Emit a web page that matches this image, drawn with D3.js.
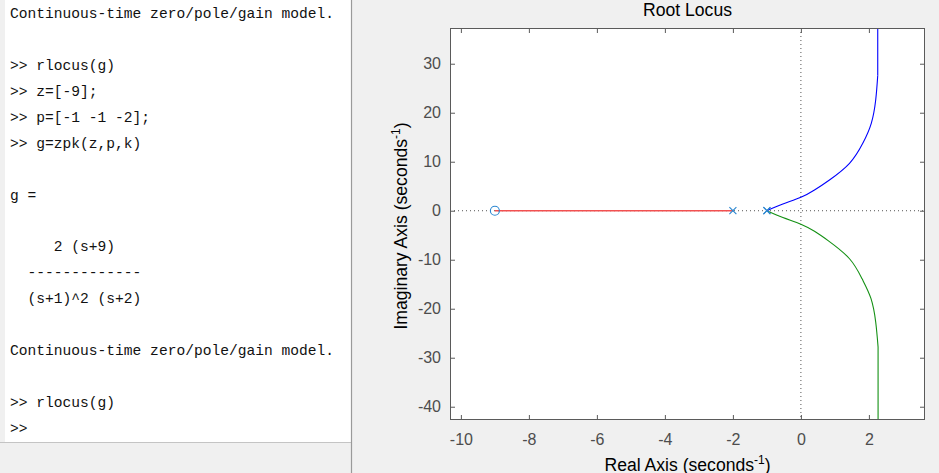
<!DOCTYPE html>
<html>
<head>
<meta charset="utf-8">
<script src="https://cdn.jsdelivr.net/npm/d3@7"></script>
<style>
  html, body { margin: 0; padding: 0; background: #f0f0f0; }
  svg { display: block; }
  .mono { font-family: "Liberation Mono", "DejaVu Sans Mono", monospace; white-space: pre; }
</style>
</head>
<body>
<svg id="chart" width="939" height="473"></svg>
<script>
// ---------- Data ----------
const consoleLines = [
  "Continuous-time zero/pole/gain model.",
  "",
  ">> rlocus(g)",
  ">> z=[-9];",
  ">> p=[-1 -1 -2];",
  ">> g=zpk(z,p,k)",
  "",
  "g =",
  "",
  "     2 (s+9)",
  "  -------------",
  "  (s+1)^2 (s+2)",
  "",
  "Continuous-time zero/pole/gain model.",
  "",
  ">> rlocus(g)",
  ">>"
];

const titleText = "Root Locus";
const xTicks = [-10, -8, -6, -4, -2, 0, 2];
const yTicks = [-40, -30, -20, -10, 0, 10, 20, 30];
const xDomain = [-10.32, 3.65];
const yDomain = [-42.71, 37.29];

// Branches (real, imaginary); last point = straight tail to the edge
const blueRe  = [-1, -0.53, 0, 0.40, 0.84, 1.43, 1.82, 2.07, 2.20, 2.26, 2.26];
const blueIm  = [0, 1.37, 2.73, 4.22, 6.27, 9.67, 13.75, 17.83, 22.6, 27.6, 40];
const greenRe = [-1, -0.53, 0, 0.40, 0.82, 1.43, 1.80, 2.06, 2.20, 2.27, 2.27];
const greenIm = [0, -1.4, -2.75, -4.2, -6.2, -9.8, -13.9, -17.9, -22.7, -27.8, -46];
const redRe   = [-9, -2];
const redIm   = [0, 0];
const zerosRe = [-9];
const polesRe = [-2, -1, -1];

// ---------- Layout ----------
const svg = d3.select("#chart");
const W = 939, H = 473;
const plot = { left: 450, right: 925, top: 28, bottom: 420 };

// Backgrounds
svg.append("rect").attr("x", 0).attr("y", 0).attr("width", W).attr("height", H).attr("fill", "#f0f0f0");
svg.append("rect").attr("x", 5).attr("y", 0).attr("width", 346).attr("height", 442).attr("fill", "#ffffff");
svg.append("line").attr("x1", 0).attr("x2", 351).attr("y1", 442.5).attr("y2", 442.5)
  .attr("stroke", "#c4c4c4").attr("stroke-width", 1);
svg.append("line").attr("x1", 351.5).attr("x2", 351.5).attr("y1", 0).attr("y2", H)
  .attr("stroke", "#9a9a9a").attr("stroke-width", 1.2);

// Console text
const lineH = 25.9;
svg.append("g").selectAll("text").data(consoleLines).join("text")
  .attr("class", "mono")
  .attr("x", 10)
  .attr("y", (d, i) => 18.3 + i * lineH)
  .attr("font-size", "14.6px")
  .attr("fill", "#111")
  .attr("xml:space", "preserve")
  .text(d => d);

// Scales
const x = d3.scaleLinear().domain(xDomain).range([plot.left, plot.right]);
const y = d3.scaleLinear().domain(yDomain).range([plot.bottom, plot.top]);

// Plot area
svg.append("rect").attr("x", plot.left).attr("y", plot.top)
  .attr("width", plot.right - plot.left).attr("height", plot.bottom - plot.top)
  .attr("fill", "#ffffff");

svg.append("clipPath").attr("id", "clip").append("rect")
  .attr("x", plot.left).attr("y", plot.top)
  .attr("width", plot.right - plot.left).attr("height", plot.bottom - plot.top);

const axisColor = "#5a5a5a";
const labelColor = "#4d4d4d";
const tickFont = "Liberation Sans, Arial, sans-serif";
const fmt = d => String(d);

function styleAxis(g) {
  g.select(".domain").remove();
  g.selectAll(".tick line").attr("stroke", axisColor);
  g.selectAll(".tick text").attr("fill", labelColor).attr("font-size", "16px").attr("font-family", tickFont);
}

svg.append("g").attr("transform", `translate(0,${plot.bottom})`)
  .call(d3.axisBottom(x).tickValues(xTicks).tickSize(-5).tickPadding(14).tickFormat(fmt))
  .call(styleAxis);
svg.append("g").attr("transform", `translate(0,${plot.top})`)
  .call(d3.axisTop(x).tickValues(xTicks).tickSize(-5).tickFormat(""))
  .call(styleAxis);
svg.append("g").attr("transform", `translate(${plot.left},0)`)
  .call(d3.axisLeft(y).tickValues(yTicks).tickSize(-5).tickPadding(9).tickFormat(fmt))
  .call(styleAxis);
svg.append("g").attr("transform", `translate(${plot.right},0)`)
  .call(d3.axisRight(y).tickValues(yTicks).tickSize(-5).tickFormat(""))
  .call(styleAxis);

const content = svg.append("g").attr("clip-path", "url(#clip)");

// Dotted zero lines
content.append("line")
  .attr("x1", plot.left).attr("x2", plot.right).attr("y1", y(0)).attr("y2", y(0))
  .attr("stroke", "#555").attr("stroke-width", 1).attr("stroke-dasharray", "1,3");
content.append("line")
  .attr("x1", x(0)).attr("x2", x(0)).attr("y1", plot.top).attr("y2", plot.bottom)
  .attr("stroke", "#555").attr("stroke-width", 1).attr("stroke-dasharray", "1,3");

// Branches
const smooth = d3.line().x(d => x(d[0])).y(d => y(d[1])).curve(d3.curveNatural);
const straight = d3.line().x(d => x(d[0])).y(d => y(d[1]));
const zip = (a, b) => a.map((v, i) => [v, b[i]]);

function branch(re, im, color) {
  const pts = zip(re, im);
  const n = pts.length;
  content.append("path").datum(pts.slice(0, n - 1)).attr("d", smooth)
    .attr("fill", "none").attr("stroke", color).attr("stroke-width", 1.1);
  content.append("path").datum(pts.slice(n - 2)).attr("d", straight)
    .attr("fill", "none").attr("stroke", color).attr("stroke-width", 1.1);
}

content.append("path").datum(zip(redRe, redIm)).attr("d", straight)
  .attr("fill", "none").attr("stroke", "#f25050").attr("stroke-width", 1.4);
branch(blueRe, blueIm, "#0000ff");
branch(greenRe, greenIm, "#139013");

// Markers
const markerColor = "#2a86d0";
content.selectAll("circle.zero").data(zerosRe).join("circle")
  .attr("class", "zero")
  .attr("cx", d => x(d)).attr("cy", y(0)).attr("r", 4.5)
  .attr("fill", "none").attr("stroke", markerColor).attr("stroke-width", 1.1);
const s = 3.5;
content.selectAll("path.pole").data(polesRe).join("path")
  .attr("class", "pole")
  .attr("d", d => `M${x(d)-s},${y(0)-s}L${x(d)+s},${y(0)+s}M${x(d)-s},${y(0)+s}L${x(d)+s},${y(0)-s}`)
  .attr("fill", "none").attr("stroke", markerColor).attr("stroke-width", 1.1);

// Box
svg.append("rect").attr("x", plot.left + 0.5).attr("y", plot.top + 0.5)
  .attr("width", plot.right - plot.left - 1).attr("height", plot.bottom - plot.top - 1)
  .attr("fill", "none").attr("stroke", axisColor).attr("stroke-width", 1);

// Title
const labelFont = "Liberation Sans, Arial, sans-serif";
svg.append("text").attr("x", (plot.left + plot.right) / 2).attr("y", 16)
  .attr("text-anchor", "middle").attr("font-family", labelFont).attr("font-size", "17.6px")
  .attr("fill", "#000").text(titleText);

// X label
const xl = svg.append("text").attr("x", (plot.left + plot.right) / 2).attr("y", 470.5)
  .attr("text-anchor", "middle").attr("font-family", labelFont).attr("font-size", "17.6px")
  .attr("fill", "#000");
xl.append("tspan").text("Real Axis (seconds");
xl.append("tspan").attr("font-size", "12px").attr("dy", "-7").text("-1");
xl.append("tspan").attr("dy", "7").text(")");

// Y label
const yl = svg.append("text")
  .attr("transform", `translate(407,226) rotate(-90)`)
  .attr("text-anchor", "middle").attr("font-family", labelFont).attr("font-size", "17.6px")
  .attr("fill", "#000");
yl.append("tspan").text("Imaginary Axis (seconds");
yl.append("tspan").attr("font-size", "12px").attr("dy", "-7").text("-1");
yl.append("tspan").attr("dy", "7").text(")");
</script>
</body>
</html>
